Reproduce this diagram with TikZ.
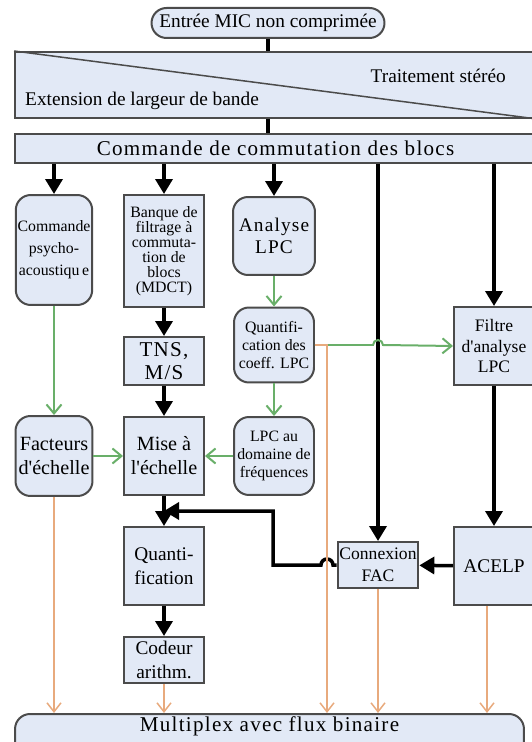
\documentclass[tikz,border=0pt]{standalone}
\usepackage{fontspec}
\setmainfont{Liberation Serif}
\newfontfamily\spaced[LetterSpace=6]{Liberation Serif}
\usetikzlibrary{arrows.meta}
\usetikzlibrary{positioning}
\definecolor{bleu}{RGB}{226,233,246}
\definecolor{bord}{RGB}{75,75,75}
\definecolor{vert}{RGB}{105,175,105}
\definecolor{ocre}{RGB}{232,170,125}

\begin{document}
\begin{tikzpicture}[x=0.02cm, y=-0.02cm,
	box/.style={draw=bord, line width=0.04cm, fill=bleu, align=center, inner sep=1pt, minimum width=1.6cm},
	rbox/.style={box, rounded corners=0.3cm},
	blk/.style={line width=0.07cm, -{Triangle[width=0.34cm,length=0.3cm]}},
	bar/.style={line width=0.07cm},
	grn/.style={draw=vert, line width=0.04cm, -{Straight Barb[width=0.3cm,length=0.18cm]}},
	org/.style={draw=ocre, line width=0.03cm, -{Straight Barb[width=0.28cm,length=0.18cm]}},
	font=\fontsize{11}{13.5}\selectfont]
  \useasboundingbox (0,0) rectangle (531,742);
  \node[rbox, minimum width=4.66cm, minimum height=0.6cm] (mic) at (268,23) {Entrée MIC non comprimée};
  \node[box, minimum width=10.42cm, minimum height=1.32cm] (ext) at (275.5,85) {};
  \draw[draw=bord, line width=0.03cm] (ext.north west) -- (ext.south east);
  \node[anchor=east] (stereo) at (512,76) {Traitement stéréo};
  \node[anchor=west] (bande) at (19,101) {Extension de largeur de bande};
  \node[box, minimum width=10.42cm, minimum height=0.58cm, font=\spaced\fontsize{12}{14}\selectfont] (cmd) at (275.5,148.5) {Commande de commutation des blocs};
  \node[rbox, minimum width=1.5cm, minimum height=2.2cm, font=\fontsize{9}{12.5}\selectfont] (psy) at (54,250) {Commande\\psycho-\\acoustiqu\,e};
  \node[box, minimum height=2.24cm, font=\fontsize{9}{8.6}\selectfont] (banque) at (164,251) {Banque de\\filtrage à\\commuta-\\tion de\\blocs\\(MDCT)};
  \node[rbox, minimum width=1.64cm, minimum height=1.56cm, font=\spaced\fontsize{11}{12.5}\selectfont] (alpc) at (274,236) {Analyse\\LPC};
  \node[box, minimum height=0.96cm, font=\spaced\fontsize{12}{13.5}\selectfont] (tns) at (164,361) {TNS,\\M/S};
  \node[rbox, minimum height=1.5cm, font=\fontsize{9}{10}\selectfont] (qlpc) at (274,345) {Quantifi-\\cation des\\coeff. LPC};
  \node[box, minimum height=1.56cm, font=\fontsize{10}{11.4}\selectfont] (filtre) at (494,346) {Filtre\\d\textquotesingle analyse\\LPC};
  \node[rbox, minimum width=1.54cm, minimum height=1.6cm, font=\fontsize{11.5}{13.6}\selectfont] (fact) at (54,456) {Facteurs\\d\textquotesingle échelle};
  \node[box, minimum height=1.56cm, font=\fontsize{11.5}{13.6}\selectfont] (mise) at (164,456) {Mise à\\l\textquotesingle échelle};
  \node[rbox, minimum height=1.56cm, font=\fontsize{9}{10}\selectfont] (lpcf) at (274,456) {LPC au\\domaine de\\fréquences};
  \node[box, minimum height=1.56cm] (quant) at (164,566) {Quanti-\\fication};
  \node[box, minimum height=0.92cm, font=\fontsize{10}{12.5}\selectfont] (fac) at (378,565) {Connexion\\FAC};
  \node[box, minimum height=1.56cm] (acelp) at (494,566) {ACELP};
  \node[box, minimum height=0.92cm] (codeur) at (164,660) {Codeur\\arithm.};
  \node[box, rounded corners=0.3cm, anchor=north, minimum width=10.18cm, text height=9pt, text depth=20pt, font=\spaced\fontsize{12}{14}\selectfont] (mux) at (269.5,713) {Multiplex avec flux binaire};

  \draw[bar] (mic.south) -- (mic.south |- ext.north);
  \draw[bar] (ext.south -| mic.south) -- (cmd.north -| mic.south);
  \foreach \n in {psy,banque,alpc,fac,filtre}
    \draw[blk] (cmd.south -| \n.north) -- (\n.north);
  \draw[blk] (banque) -- (tns);
  \draw[blk] (tns) -- (mise);
  \draw[blk] (mise) -- (quant);
  \draw[blk] (quant) -- (codeur);
  \draw[blk] (filtre) -- (acelp);
  \draw[blk] (acelp) -- (fac);
  \coordinate (hop) at (327,565);
  \coordinate (coin) at (273,511);
  \draw[blk] (fac.west) -- ([xshift=0.12cm]hop) arc[start angle=0, end angle=180, radius=0.12cm]
    -- (hop -| coin) -- (coin) -- (coin -| mise.south);

  \draw[grn] (psy) -- (fact);
  \draw[grn] (alpc) -- (qlpc);
  \draw[grn] (qlpc) -- (lpcf);
  \draw[grn] (fact) -- (mise);
  \draw[grn] (lpcf) -- (mise);
  \coordinate (saut) at (378,345);
  \draw[grn] (qlpc.east) -- ([xshift=-0.1cm]saut) arc[start angle=180, end angle=0, radius=0.1cm] -- (filtre.west);

  \coordinate (prise) at (327,345);
  \draw[org] (qlpc.east) -- (prise) -- (prise |- mux.north);
  \foreach \n in {fact,codeur,fac}
    \draw[org] (\n.south) -- (\n.south |- mux.north);
  \draw[org] ([xshift=-0.14cm]acelp.south) -- ([xshift=-0.14cm]acelp.south |- mux.north);
\end{tikzpicture}
\end{document}
